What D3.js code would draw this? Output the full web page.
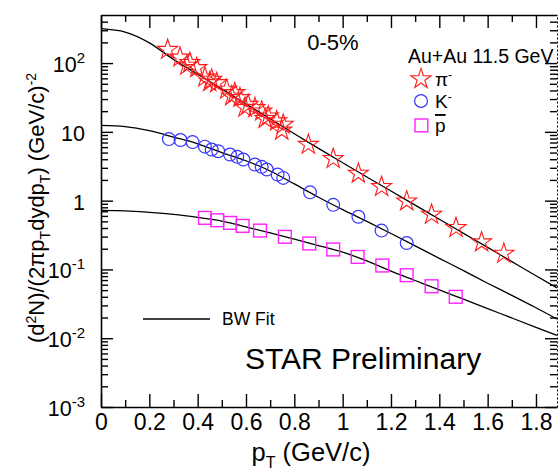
<!DOCTYPE html>
<html>
<head>
<meta charset="utf-8">
<script src="https://cdn.jsdelivr.net/npm/d3@7"></script>
<style>
  body { margin: 0; background: #fff; }
  svg { display: block; }
  text { font-family: "Liberation Sans", Arial, sans-serif; fill: #000; }
</style>
</head>
<body>
<svg id="chart"></svg>
<script>
// pi- spectrum (pT in GeV/c, yield)
const piPt = [0.276, 0.327, 0.355, 0.368, 0.396, 0.430, 0.450, 0.458, 0.479, 0.520, 0.541, 0.554,
  0.575, 0.596, 0.609, 0.637, 0.665, 0.679, 0.692, 0.727, 0.748, 0.754,
  0.858, 0.961, 1.065, 1.161, 1.265, 1.368, 1.469, 1.575, 1.667];
const piY = [157, 121, 92, 101, 85, 62, 53, 57.6, 51.5, 41.2, 33, 36.9,
  31.2, 22.5, 24.9, 22.3, 19.9, 15.5, 16.9, 14.3, 10.5, 12.8,
  6.53, 4.06, 2.48, 1.59, 0.98, 0.628, 0.403, 0.249, 0.170];

// K- spectrum
const kPt = [0.281, 0.329, 0.379, 0.430, 0.458, 0.485, 0.534, 0.564, 0.589, 0.637, 0.665, 0.686,
  0.731, 0.754, 0.865, 0.961, 1.065, 1.161, 1.265];
const kY = [7.85, 7.6, 7.1, 6.1, 5.53, 5.23, 4.68, 4.33, 3.96, 3.35, 3.10, 2.83,
  2.39, 2.14, 1.32, 0.869, 0.582, 0.367, 0.242];

// anti-proton spectrum
const pbPt = [0.430, 0.481, 0.534, 0.586, 0.658, 0.761, 0.862, 0.961, 1.062, 1.164, 1.265, 1.368, 1.468];
const pbY = [0.562, 0.519, 0.475, 0.430, 0.367, 0.298, 0.238, 0.195, 0.152, 0.114, 0.0824, 0.057, 0.040];

// blast-wave fit curves
const fitPt = [0, 0.1, 0.2, 0.3, 0.4, 0.5, 0.6, 0.7, 0.8, 0.9, 1.0, 1.1, 1.2, 1.3, 1.4, 1.5, 1.6, 1.7, 1.8, 1.887];
const fitPi = [316, 282, 197, 113, 69, 42, 25.4, 15.5, 9.4, 5.75, 3.55, 2.21, 1.38, 0.86, 0.537, 0.335, 0.209, 0.130, 0.081, 0.054];
const fitK = [12.4, 11.9, 10.4, 8.4, 6.7, 5.0, 3.8, 2.7, 1.75, 1.12, 0.74, 0.50, 0.333, 0.22, 0.145, 0.096, 0.063, 0.042, 0.0277, 0.019];
const fitPb = [0.72, 0.71, 0.675, 0.63, 0.57, 0.505, 0.415, 0.34, 0.275, 0.222, 0.178, 0.133, 0.0944, 0.069, 0.0504, 0.0369, 0.027, 0.0197, 0.0144, 0.011];

// ticks
const xMajor = [0, 0.2, 0.4, 0.6, 0.8, 1.0, 1.2, 1.4, 1.6, 1.8];
const xTickLabels = ['0', '0.2', '0.4', '0.6', '0.8', '1', '1.2', '1.4', '1.6', '1.8'];
const xMinor = [0.1, 0.3, 0.5, 0.7, 0.9, 1.1, 1.3, 1.5, 1.7];
const yMajor = [1e-3, 1e-2, 1e-1, 1, 10, 100];
const yTickBase = ['10', '10', '10', '1', '10', '10'];
const yTickExp = ['-3', '-2', '-1', '', '', '2'];

const width = 559, height = 474;
const svg = d3.select('#chart').attr('width', width).attr('height', height);

const x = d3.scaleLinear().domain([0, 1.887]).range([101, 557]);
const y = d3.scaleLog().domain([1e-3, 500]).range([407, 15]);

// minor log ticks 2..9 per decade
const yMinor = [];
yMajor.forEach(v => { for (let m = 2; m <= 9; m++) { if (v * m < 500) yMinor.push(v * m); } });

function styleAxis(g) {
  g.selectAll('path').attr('stroke', '#000').attr('stroke-width', 1.6);
  g.selectAll('line').attr('stroke', '#000').attr('stroke-width', 1.4);
  g.selectAll('text').attr('font-size', 23).attr('fill', '#000')
    .attr('font-family', '"Liberation Sans", Arial, sans-serif');
}

// bottom axis
svg.append('g').attr('transform', 'translate(0,407)')
  .call(d3.axisBottom(x).tickValues(xMajor).tickSize(-13).tickSizeOuter(0).tickPadding(7)
    .tickFormat((d, i) => xTickLabels[i]))
  .call(styleAxis);
svg.append('g').attr('transform', 'translate(0,407)')
  .call(d3.axisBottom(x).tickValues(xMinor).tickSize(-7).tickFormat(''))
  .call(g => g.select('.domain').remove()).call(styleAxis);

// top axis
svg.append('g').attr('transform', 'translate(0,15)')
  .call(d3.axisTop(x).tickValues(xMajor).tickSize(-13).tickSizeOuter(0).tickFormat(''))
  .call(styleAxis);
svg.append('g').attr('transform', 'translate(0,15)')
  .call(d3.axisTop(x).tickValues(xMinor).tickSize(-7).tickFormat(''))
  .call(g => g.select('.domain').remove()).call(styleAxis);

// left axis
svg.append('g').attr('transform', 'translate(101,0)')
  .call(d3.axisLeft(y).tickValues(yMajor).tickSize(-12).tickSizeOuter(0).tickFormat(''))
  .call(styleAxis);
svg.append('g').attr('transform', 'translate(101,0)')
  .call(d3.axisLeft(y).tickValues(yMinor).tickSize(-7).tickFormat(''))
  .call(g => g.select('.domain').remove()).call(styleAxis);

// right axis (frame drawn dotted like the original)
svg.append('g').attr('transform', 'translate(557,0)')
  .call(d3.axisRight(y).tickValues(yMajor).tickSize(-12).tickSizeOuter(0).tickFormat(''))
  .call(styleAxis)
  .call(g => g.select('.domain').attr('stroke-width', 1).attr('stroke-dasharray', '2,2'));
svg.append('g').attr('transform', 'translate(557,0)')
  .call(d3.axisRight(y).tickValues(yMinor).tickSize(-7).tickFormat(''))
  .call(g => g.select('.domain').remove()).call(styleAxis);

// y tick labels with exponents
const yl = svg.append('g').selectAll('text').data(yMajor).enter().append('text')
  .attr('x', 85).attr('y', d => y(d) + 9)
  .attr('text-anchor', 'end').attr('font-size', 21.5);
yl.append('tspan').text((d, i) => yTickBase[i]);
yl.append('tspan').attr('dy', -9).attr('font-size', 15).text((d, i) => yTickExp[i]);

// fit curves
const fitLine = vals => d3.line()
  .x((d, i) => x(fitPt[i]))
  .y(d => y(d))
  .curve(d3.curveMonotoneX)(vals);
[fitPi, fitK, fitPb].forEach(vals => {
  svg.append('path').attr('d', fitLine(vals))
    .attr('fill', 'none').attr('stroke', '#000').attr('stroke-width', 1.3);
});

// markers
const star = d3.symbol(d3.symbolStar, 125);
svg.append('g').selectAll('path').data(piPt).enter().append('path')
  .attr('d', star)
  .attr('transform', (d, i) => `translate(${x(d)},${y(piY[i])})`)
  .attr('fill', 'none').attr('stroke', '#ff1a1a').attr('stroke-width', 1.1);

svg.append('g').selectAll('circle').data(kPt).enter().append('circle')
  .attr('cx', d => x(d)).attr('cy', (d, i) => y(kY[i])).attr('r', 6.4)
  .attr('fill', 'none').attr('stroke', '#3535ff').attr('stroke-width', 1.2);

svg.append('g').selectAll('rect').data(pbPt).enter().append('rect')
  .attr('x', d => x(d) - 6.4).attr('y', (d, i) => y(pbY[i]) - 6.4)
  .attr('width', 12.8).attr('height', 12.8)
  .attr('fill', 'none').attr('stroke', '#ff20ff').attr('stroke-width', 1.4);

// centrality label
svg.append('text').attr('x', 333).attr('y', 50).attr('text-anchor', 'middle')
  .attr('font-size', 22).text('0-5%');

// legend
svg.append('text').attr('x', 408).attr('y', 63).attr('font-size', 19.5).text('Au+Au 11.5 GeV');
svg.append('path').attr('d', star).attr('transform', 'translate(421,79)')
  .attr('fill', 'none').attr('stroke', '#ff1a1a').attr('stroke-width', 1.1);
svg.append('circle').attr('cx', 421).attr('cy', 101).attr('r', 6.4)
  .attr('fill', 'none').attr('stroke', '#3535ff').attr('stroke-width', 1.2);
svg.append('rect').attr('x', 415).attr('y', 119).attr('width', 12.8).attr('height', 12.8)
  .attr('fill', 'none').attr('stroke', '#ff20ff').attr('stroke-width', 1.4);

const piLbl = svg.append('text').attr('x', 435).attr('y', 86).attr('font-size', 19);
piLbl.append('tspan').text('π');
piLbl.append('tspan').attr('dy', -7).attr('font-size', 12).text('-');
const kLbl = svg.append('text').attr('x', 435).attr('y', 108).attr('font-size', 19);
kLbl.append('tspan').text('K');
kLbl.append('tspan').attr('dy', -7).attr('font-size', 12).text('-');
svg.append('text').attr('x', 435).attr('y', 132).attr('font-size', 19)
  .attr('text-decoration', 'overline').text('p');

// BW fit key
svg.append('line').attr('x1', 143).attr('x2', 210).attr('y1', 319).attr('y2', 319)
  .attr('stroke', '#000').attr('stroke-width', 1.4);
svg.append('text').attr('x', 222).attr('y', 325).attr('font-size', 17.5).text('BW Fit');

svg.append('text').attr('x', 245).attr('y', 369).attr('font-size', 30).text('STAR Preliminary');

// axis titles
const xt = svg.append('text').attr('x', 311).attr('y', 461).attr('text-anchor', 'middle').attr('font-size', 25.5);
xt.append('tspan').text('p');
xt.append('tspan').attr('dy', 7).attr('font-size', 16).text('T');
xt.append('tspan').attr('dy', -7).text(' (GeV/c)');

const ytl = svg.append('text').attr('transform', 'translate(44,208) rotate(-90)')
  .attr('text-anchor', 'middle').attr('font-size', 22);
ytl.append('tspan').text('(d');
ytl.append('tspan').attr('dy', -8).attr('font-size', 14).text('2');
ytl.append('tspan').attr('dy', 8).text('N)/(2πp');
ytl.append('tspan').attr('dy', 6).attr('font-size', 14).text('T');
ytl.append('tspan').attr('dy', -6).text('dydp');
ytl.append('tspan').attr('dy', 6).attr('font-size', 14).text('T');
ytl.append('tspan').attr('dy', -6).text(') (GeV/c)');
ytl.append('tspan').attr('dy', -8).attr('font-size', 14).text('-2');
</script>
</body>
</html>
